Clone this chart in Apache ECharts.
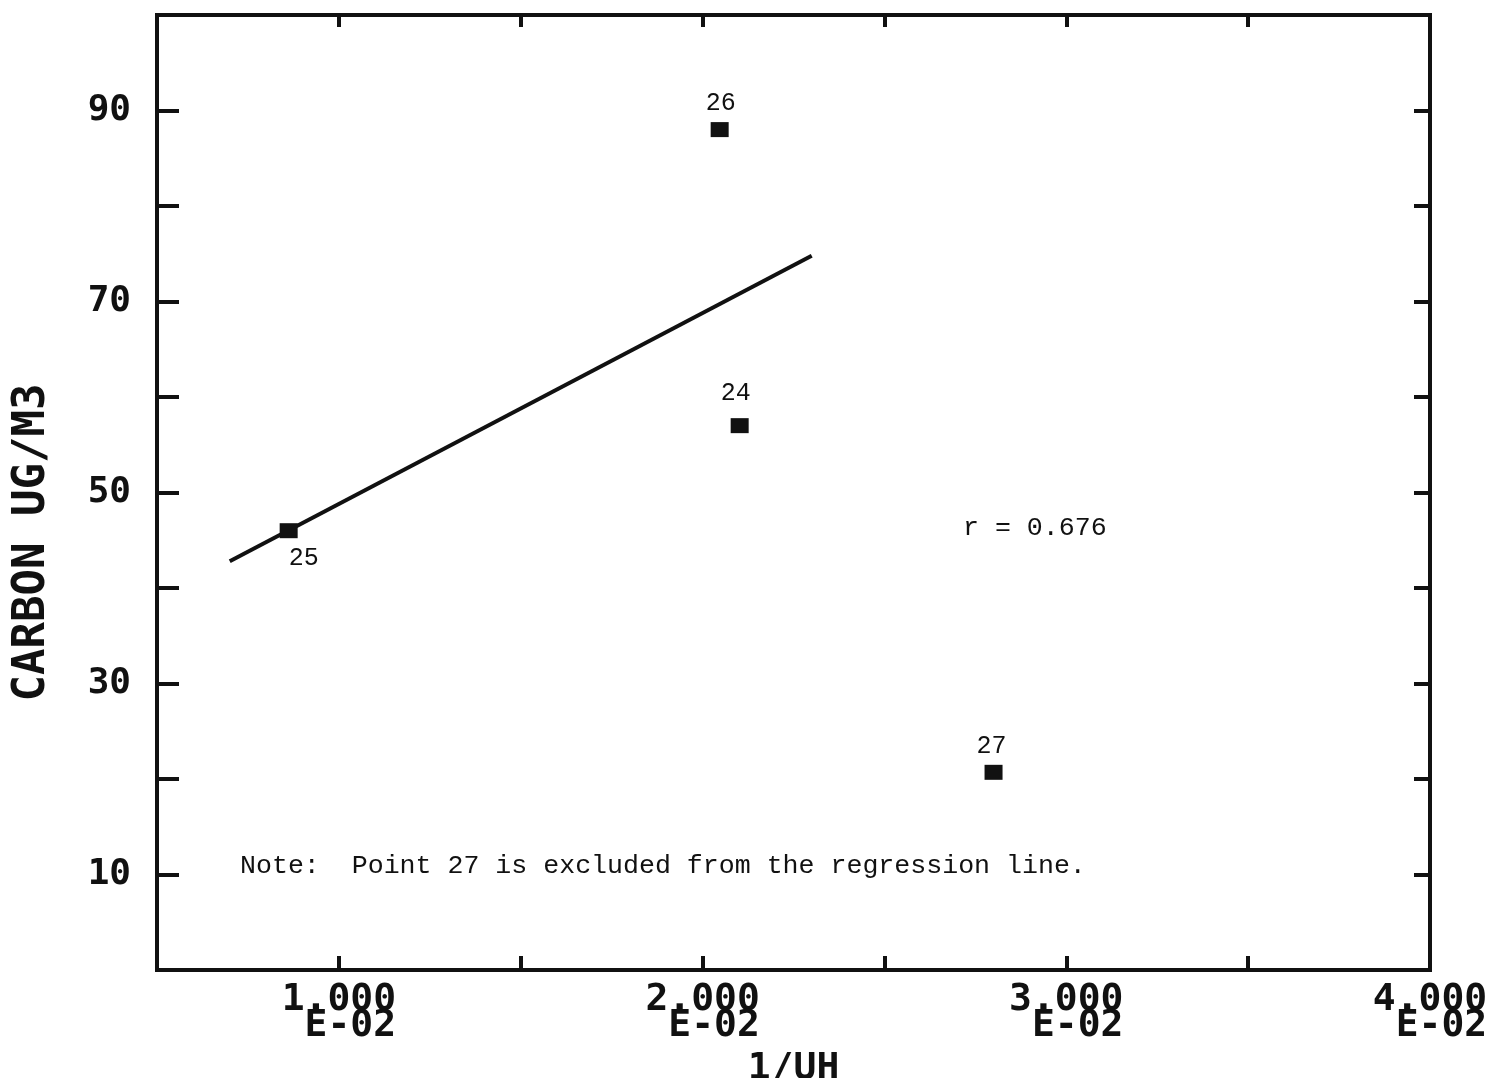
<!DOCTYPE html>
<html>
<head>
<meta charset="utf-8">
<script src="https://cdn.jsdelivr.net/npm/echarts@6/dist/echarts.min.js"></script>
<style>
  html, body { margin: 0; padding: 0; background: #fff; }
  #chart { width: 1505px; height: 1078px; }
</style>
</head>
<body>
<div id="chart"></div>
<script>
// Sample points: 1/UH (x, in units of E-02) against carbon (ug/m3)
const pointIds = ['24', '25', '26', '27'];
const invUH = [2.102, 0.862, 2.047, 2.80];
const carbon = [57.0, 46.0, 88.0, 20.7];

// Least-squares line through points 24-26 (27 left out), drawn over its x span
const fitX = [0.7, 2.3];
const fitY = [42.8, 74.8];

// Tick labels
const yLabelValues = [10, 30, 50, 70, 90];
const xLabelValues = [1, 2, 3, 4];

const rText = 'r = 0.676';
const noteText = 'Note:  Point 27 is excluded from the regression line.';

const labelPlacement = {
  '24': { position: 'top', offset: [-4, -6] },
  '25': { position: 'bottom', offset: [15, 2] },
  '26': { position: 'top', offset: [1, 0] },
  '27': { position: 'top', offset: [-2, 0] }
};

const axisFont = 'DejaVu Sans Mono';
const noteFont = 'Liberation Mono';
const ink = '#111';

const chart = echarts.init(document.getElementById('chart'), null, { renderer: 'canvas' });

const scatterData = pointIds.map((id, i) => ({
  name: id,
  value: [invUH[i], carbon[i]],
  label: {
    show: true,
    formatter: id,
    position: labelPlacement[id].position,
    offset: labelPlacement[id].offset,
    distance: 6,
    fontFamily: noteFont,
    fontSize: 25,
    color: ink,
    opacity: 1
  }
}));

const fitData = fitX.map((x, i) => [x, fitY[i]]);

chart.setOption({
  animation: false,
  backgroundColor: '#fff',
  grid: {
    left: 157, right: 75, top: 15, bottom: 108,
    outerBoundsMode: 'none',
    containLabel: false,
    show: true, borderColor: ink, borderWidth: 4, backgroundColor: 'transparent'
  },
  xAxis: [
    {
      type: 'value', min: 0.5, max: 4, interval: 0.5, position: 'bottom',
      name: '1/UH', nameLocation: 'middle', nameGap: 64,
      nameTextStyle: { fontFamily: axisFont, fontWeight: 'bold', fontSize: 38, color: ink },
      axisLine: { show: true, onZero: false, lineStyle: { color: ink, width: 4 } },
      axisTick: { show: true, inside: true, length: 14, lineStyle: { color: ink, width: 4 } },
      axisLabel: {
        margin: 17,
        fontFamily: axisFont, fontWeight: 'bold', fontSize: 38, color: ink, lineHeight: 26,
        formatter: v => {
          const k = xLabelValues.find(t => Math.abs(t - v) < 1e-6);
          return k === undefined ? '' : k.toFixed(3) + '\n\u00a0E-02';
        }
      },
      splitLine: { show: false }
    },
    {
      type: 'value', min: 0.5, max: 4, interval: 0.5, position: 'top',
      axisLine: { show: true, onZero: false, lineStyle: { color: ink, width: 4 } },
      axisTick: { show: true, inside: true, length: 12, lineStyle: { color: ink, width: 4 } },
      axisLabel: { show: false }, splitLine: { show: false }
    }
  ],
  yAxis: [
    {
      type: 'value', min: 0, max: 100, interval: 10, position: 'left',
      name: 'CARBON UG/M3', nameLocation: 'middle', nameGap: 102, nameRotate: 90,
      nameTextStyle: {
        fontFamily: axisFont, fontWeight: 'bold', fontSize: 44, color: ink,
        padding: [0, 100, 0, 0]
      },
      axisLine: { show: true, onZero: false, lineStyle: { color: ink, width: 4 } },
      axisTick: { show: true, inside: true, length: 22, lineStyle: { color: ink, width: 4 } },
      axisLabel: {
        margin: 26,
        fontFamily: axisFont, fontWeight: 'bold', fontSize: 36, color: ink,
        formatter: v => yLabelValues.includes(v) ? String(v) : ''
      },
      splitLine: { show: false }
    },
    {
      type: 'value', min: 0, max: 100, interval: 10, position: 'right',
      axisLine: { show: true, onZero: false, lineStyle: { color: ink, width: 4 } },
      axisTick: { show: true, inside: true, length: 16, lineStyle: { color: ink, width: 4 } },
      axisLabel: { show: false }, splitLine: { show: false }
    }
  ],
  series: [
    {
      type: 'line',
      data: fitData,
      showSymbol: false,
      lineStyle: { color: ink, width: 4 },
      z: 2
    },
    {
      type: 'scatter',
      data: scatterData,
      symbol: 'rect',
      symbolSize: [18, 15],
      itemStyle: { color: ink, opacity: 1 },
      z: 3
    }
  ],
  graphic: [
    {
      type: 'text', left: 963, top: 514,
      style: { text: rText, font: '26.6px "' + noteFont + '"', fill: ink }
    },
    {
      type: 'text', left: 240, top: 852,
      style: { text: noteText, font: '26.6px "' + noteFont + '"', fill: ink }
    }
  ]
});
</script>
</body>
</html>
